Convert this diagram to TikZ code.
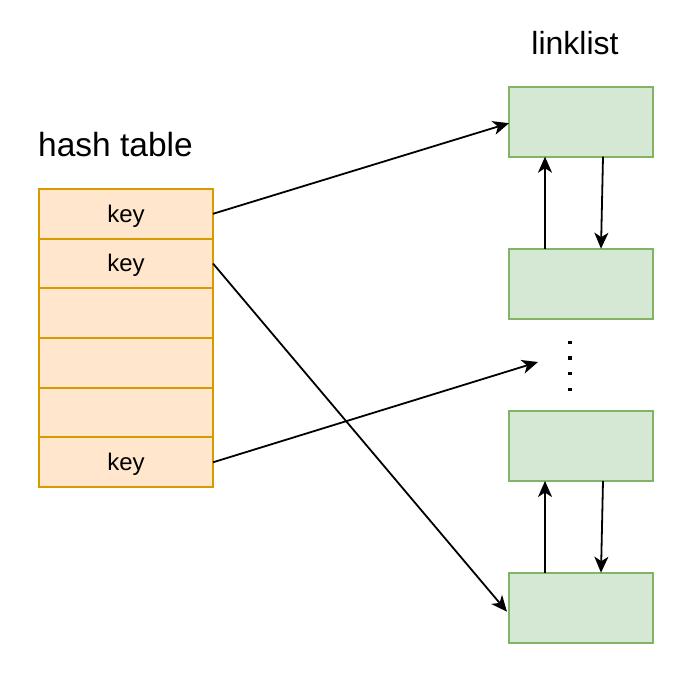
\documentclass[tikz,border=0pt]{standalone}
\usepackage{fontspec}
\setmainfont{Liberation Sans}
\usetikzlibrary{arrows.meta,calc}
\definecolor{hfill}{HTML}{FFE6CC}
\definecolor{hdraw}{HTML}{D79B00}
\definecolor{lfill}{HTML}{D5E8D4}
\definecolor{ldraw}{HTML}{82B366}
\newcommand\keytxt{\raisebox{-2pt}[\height][\depth]{key}}
\begin{document}
\begin{tikzpicture}[x=1pt,y=-1pt,
  cell/.style={draw=hdraw,fill=hfill,line width=2pt,minimum width=174pt,minimum height=49.7pt,inner sep=0pt,outer sep=0pt,font=\fontsize{24}{28}\selectfont},
  lbox/.style={draw=ldraw,fill=lfill,line width=2pt,minimum width=144pt,minimum height=70pt,inner sep=0pt,outer sep=0pt},
  title/.style={font=\fontsize{32}{38}\selectfont,inner sep=0pt},
  arr/.style={line width=1.8pt,-{Stealth[length=16pt,width=14pt,inset=4.5pt]}}]
\useasboundingbox (0,0) rectangle (680,680);
% titles
\node[title,font=\fontsize{33.5}{40}\selectfont] (ht) at (115.5,145) {hash table};
\node[title] (ll) at (575,43) {linklist};
% hash table
\node[cell] (r1) at (126,213.8) {\keytxt};
\node[cell] (r2) at (126,263.5) {\keytxt};
\node[cell] (r3) at (126,313.2) {};
\node[cell] (r4) at (126,362.9) {};
\node[cell] (r5) at (126,412.6) {};
\node[cell] (r6) at (126,462.3) {\keytxt};
% linked list
\node[lbox] (b1) at (581,121.7) {};
\node[lbox] (b2) at (581,283.7) {};
\node[lbox] (b3) at (581,446) {};
\node[lbox] (b4) at (581,607.7) {};
% dots
\draw[line width=3.2pt,dash pattern=on 3.2pt off 12.6pt] (570,340.5) -- (570,392);
\coordinate (dots) at (538,362);
% arrows from hash table
\draw[arr] (r1.east) -- ($(b1.west)+(0,1.5)$);
\draw[arr] (r2.east) -- ($(b4.west)+(-2,4)$);
\draw[arr] (r6.east) -- (dots);
% vertical arrows
\draw[arr] ($(b2.north west)+(36,0)$) -- ($(b1.south west)+(36,0)$);
\draw[arr] ($(b1.south west)+(94,0)$) -- ($(b2.north west)+(92,0)$);
\draw[arr] ($(b4.north west)+(36,0)$) -- ($(b3.south west)+(36,0)$);
\draw[arr] ($(b3.south west)+(94,0)$) -- ($(b4.north west)+(92,0)$);
\end{tikzpicture}
\end{document}
